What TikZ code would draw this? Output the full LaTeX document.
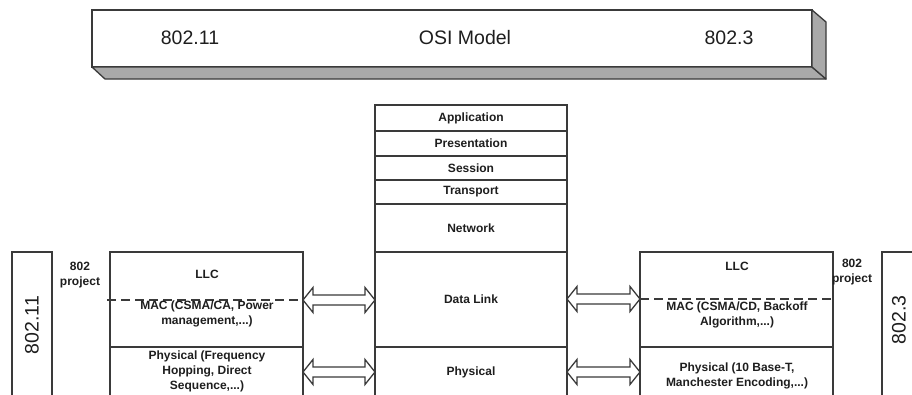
\documentclass[tikz,border=0pt]{standalone}
\usepackage{fontspec}
\setmainfont{Liberation Sans}
\usetikzlibrary{calc}
\definecolor{linegray}{HTML}{3A3A3A}
\definecolor{txt}{HTML}{1E1E1E}
\definecolor{shadegray}{HTML}{A9A9A9}
\newcommand\blockarrow[2]{%
  \draw[arrowline] (#1) -- ($(#1)+(10,12.5)$) -- ($(#1)+(10,5)$) -- ($(#2)+(-10,5)$) -- ($(#2)+(-10,12.5)$) -- (#2)
    -- ($(#2)+(-10,-12.5)$) -- ($(#2)+(-10,-5)$) -- ($(#1)+(10,-5)$) -- ($(#1)+(10,-12.5)$) -- cycle;}
\begin{document}
\begin{tikzpicture}[x=1pt,y=-1pt,
  line/.style={draw=linegray, line width=1.3pt},
  arrowline/.style={draw=linegray, line width=1.3pt, fill=white, line join=miter},
  box/.style={line, fill=white, inner sep=0pt, outer sep=0pt, anchor=north west},
  layer/.style={box, minimum width=192pt, font=\bfseries\fontsize{12}{15}\selectfont, text=txt},
  lbl/.style={font=\bfseries\fontsize{12}{15}\selectfont, text=txt, align=center, inner sep=0pt},
  big/.style={font=\fontsize{19.5}{22}\selectfont, text=txt, inner sep=0pt},
  dashline/.style={draw=linegray, line width=1.5pt, dash pattern=on 9pt off 5pt}]
\useasboundingbox (0,0) rectangle (912,394);
\fill[white] (0,0) rectangle (912,394);
\clip (0,0) rectangle (912,394);

% ---- banner ----
\node[box, minimum width=720pt, minimum height=57pt] (banner) at (92,10) {};
\filldraw[fill=shadegray, draw=linegray, line width=1.3pt, line join=round]
  (banner.south west) -- (banner.south east) -- ($(banner.south east)+(14,12)$) -- ($(banner.south west)+(13,12)$) -- cycle;
\filldraw[fill=shadegray, draw=linegray, line width=1.3pt, line join=round]
  (banner.north east) -- ($(banner.north east)+(14,12)$) -- ($(banner.south east)+(14,12)$) -- (banner.south east) -- cycle;
\node[big] (b1) at (190,38) {802.11};
\node[big] (b2) at (465,38) {OSI Model};
\node[big] (b3) at (729,38) {802.3};

% ---- central OSI stack ----
\node[layer, minimum height=26pt] (app) at (375,105) {Application};
\node[layer, minimum height=25pt] (pres) at (375,131) {Presentation};
\node[layer, minimum height=24pt] (sess) at (375,156) {Session};
\node[layer, minimum height=24pt] (trans) at (375,180) {Transport};
\node[layer, minimum height=48pt] (net) at (375,204) {Network};
\node[layer, minimum height=95pt] (dl) at (375,252) {Data Link};
\node[layer, minimum height=80pt] (phy) at (375,347) {};
\node[lbl] (phyt) at (471,372) {Physical};

% ---- left side (802.11) ----
\node[box, minimum width=40pt, minimum height=170pt] (l80211) at (12,252) {};
\node[big, rotate=90] (l80211t) at (32,325) {802.11};
\node[lbl] (lproj) at (80,275) {802\\project};
\node[box, minimum width=193pt, minimum height=170pt] (lstack) at (110,252) {};
\draw[line] (lstack.west |- 0,347) coordinate (lsl) -- (lstack.east |- lsl);
\draw[dashline] ($(lstack.west |- 0,300)+(-3,0)$) -- (lstack.east |- 0,300);
\node[lbl] (lllc) at (207,274) {LLC};
\node[lbl] (lmac) at (207,314) {MAC (CSMA/CA, Power\\management,...)};
\node[lbl] (lphy) at (207,371.5) {Physical (Frequency\\Hopping, Direct\\Sequence,...)};

% ---- right side (802.3) ----
\node[box, minimum width=193pt, minimum height=170pt] (rstack) at (640,252) {};
\draw[line] (rstack.west |- 0,347) coordinate (rsl) -- (rstack.east |- rsl);
\draw[dashline] (rstack.west |- 0,299) -- (rstack.east |- 0,299);
\node[lbl] (rllc) at (737,266) {LLC};
\node[lbl] (rmac) at (737,314.5) {MAC (CSMA/CD, Backoff\\Algorithm,...)};
\node[lbl] (rphy) at (737,375.5) {Physical (10 Base-T,\\Manchester Encoding,...)};
\node[lbl] (rproj) at (852,272) {802\\project};
\node[box, minimum width=60pt, minimum height=170pt] (r8023) at (882,252) {};
\node[big, rotate=90] (r8023t) at (899,320) {802.3};

% ---- block arrows ----
\coordinate (la1) at (lstack.east |- 0,300);
\coordinate (lb1) at (dl.west |- 0,300);
\coordinate (la2) at (lstack.east |- 0,372);
\coordinate (lb2) at (phy.west |- 0,372);
\coordinate (ra1) at (dl.east |- 0,299);
\coordinate (rb1) at (rstack.west |- 0,299);
\coordinate (ra2) at (phy.east |- 0,372);
\coordinate (rb2) at (rstack.west |- 0,372);
\blockarrow{la1}{lb1}
\blockarrow{la2}{lb2}
\blockarrow{ra1}{rb1}
\blockarrow{ra2}{rb2}
\end{tikzpicture}
\end{document}
